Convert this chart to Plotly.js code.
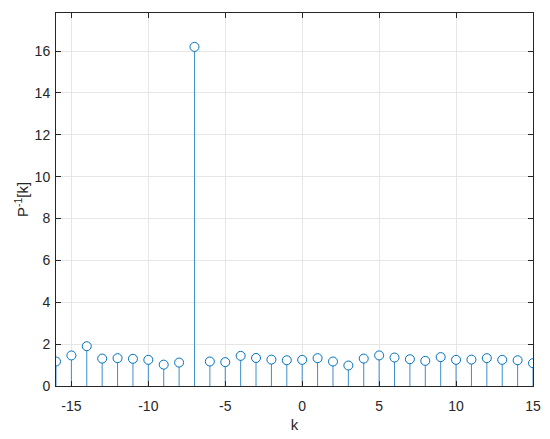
<!DOCTYPE html>
<html>
<head>
<meta charset="utf-8">
<script src="https://cdn.plot.ly/plotly-3.0.1.min.js"></script>
<style>html,body{margin:0;padding:0;background:#fff;}#chart{width:550px;height:439px;}</style>
</head>
<body>
<div id="chart"></div>
<script>
const k = [-16,-15,-14,-13,-12,-11,-10,-9,-8,-7,-6,-5,-4,-3,-2,-1,0,1,2,3,4,5,6,7,8,9,10,11,12,13,14,15];
const pinv = [1.17,1.46,1.90,1.31,1.33,1.30,1.25,1.02,1.12,16.2,1.17,1.14,1.44,1.34,1.26,1.23,1.25,1.33,1.17,0.98,1.31,1.46,1.36,1.28,1.20,1.38,1.25,1.26,1.33,1.25,1.23,1.09];
const xTicks = [-15,-10,-5,0,5,10,15];
const yTicks = [0,2,4,6,8,10,12,14,16];

const blue = '#0072BD';
const trace = {
  x: k, y: pinv, type: 'scatter', mode: 'markers',
  marker: {symbol: 'circle', size: 9, color: '#ffffff', line: {width: 1, color: blue}},
  error_y: {type: 'data', symmetric: false, array: pinv.map(() => 0), arrayminus: pinv, width: 0, thickness: 1, color: '#3d8fcb'},
  hoverinfo: 'x+y'
};
const fam = 'Liberation Sans, Arial, sans-serif';
const axFont = {family: fam, size: 14, color: '#262626'};
const layout = {
  width: 550, height: 439,
  margin: {l: 56, r: 17, t: 13, b: 53},
  paper_bgcolor: '#fff', plot_bgcolor: '#fff',
  showlegend: false,
  xaxis: {
    range: [-16, 15], tickvals: xTicks, ticktext: xTicks.map(String),
    ticks: 'inside', ticklen: 5, tickcolor: '#262626', tickwidth: 1,
    showline: true, linecolor: '#262626', linewidth: 1, mirror: 'ticks',
    showgrid: true, gridcolor: '#e6e6e6', gridwidth: 1, zeroline: false,
    tickfont: axFont, ticklabelstandoff: 7,
    title: {text: 'k', font: {family: fam, size: 15, color: '#262626'}, standoff: 6}
  },
  yaxis: {
    range: [0, 17.82], tickvals: yTicks, ticktext: yTicks.map(String),
    ticks: 'inside', ticklen: 5, tickcolor: '#262626', tickwidth: 1,
    showline: true, linecolor: '#262626', linewidth: 1, mirror: 'ticks',
    showgrid: true, gridcolor: '#e6e6e6', gridwidth: 1, zeroline: false,
    tickfont: axFont, ticklabelstandoff: 2,
    title: {text: 'P<sup>-1</sup>[k]', font: {family: fam, size: 15, color: '#262626'}, standoff: 2}
  }
};
Plotly.newPlot('chart', [trace], layout, {staticPlot: true, displayModeBar: false});
</script>
</body>
</html>
